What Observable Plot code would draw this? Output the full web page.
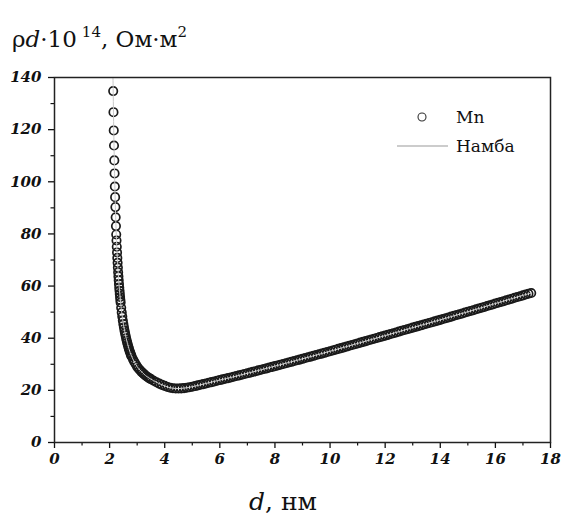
<!DOCTYPE html>
<html>
<head>
<meta charset="utf-8">
<script src="https://cdn.jsdelivr.net/npm/d3@7"></script>
<script src="https://cdn.jsdelivr.net/npm/@observablehq/plot@0.6"></script>
<style>
  html, body { margin: 0; padding: 0; background: #fff; }
  #chart svg { display: block; }
</style>
</head>
<body>
<div id="chart"></div>
<script>
// ---- Data ----
const mnD = [
  2.13,2.14,2.15,2.16,2.17,2.18,2.19,2.20,2.21,2.22,2.23,2.24,2.25,2.26,2.27,2.28,2.29,2.30,
  2.31,2.32,2.33,2.34,2.35,2.36,2.37,2.38,2.39,2.40,
  2.42,2.44,2.46,2.48,2.50,2.52,2.54,2.56,2.58,2.60,2.62,2.64,2.66,2.68,2.70,2.72,2.74,2.76,2.78,2.80,
  2.85,2.90,2.95,3.00,3.05,3.10,3.15,3.20,3.25,3.30,3.35,3.40,3.45,3.50,
  3.6,3.7,3.8,3.9,4.0,4.1,4.2,4.3,4.4,4.5,4.6,4.7,4.8,4.9,5.0,5.1,5.2,5.3,5.4,5.5,5.6,5.7,5.8,5.9,
  6.0,6.1,6.2,6.3,6.4,6.5,6.6,6.7,6.8,6.9,7.0,7.1,7.2,7.3,7.4,7.5,7.6,7.7,7.8,7.9,
  8.0,8.1,8.2,8.3,8.4,8.5,8.6,8.7,8.8,8.9,9.0,9.1,9.2,9.3,9.4,9.5,9.6,9.7,9.8,9.9,
  10.0,10.1,10.2,10.3,10.4,10.5,10.6,10.7,10.8,10.9,11.0,11.1,11.2,11.3,11.4,11.5,11.6,11.7,11.8,11.9,
  12.0,12.1,12.2,12.3,12.4,12.5,12.6,12.7,12.8,12.9,13.0,13.1,13.2,13.3,13.4,13.5,13.6,13.7,13.8,13.9,
  14.0,14.1,14.2,14.3,14.4,14.5,14.6,14.7,14.8,14.9,15.0,15.1,15.2,15.3,15.4,15.5,15.6,15.7,15.8,15.9,
  16.0,16.1,16.2,16.3,16.4,16.5,16.6,16.7,16.8,16.9,17.0,17.1,17.2,17.3
];
const mnRho = [
  134.8,126.7,119.7,113.9,108.2,103.2,98.2,94.1,90.3,86.4,83.0,79.8,77.5,75.1,72.9,70.8,68.9,67.1,
  65.3,63.7,62.2,60.8,59.4,58.2,57.0,55.8,54.7,53.7,
  51.7,49.9,48.3,46.8,45.4,44.2,43.0,42.0,41.0,40.0,39.1,38.3,37.5,36.7,36.0,35.3,34.7,34.1,33.5,33.0,
  31.9,30.9,30.0,29.1,28.4,27.8,27.2,26.7,26.2,25.7,25.3,24.95,24.6,24.3,
  23.7,23.1,22.6,22.1,21.7,21.3,21.0,20.8,20.7,20.7,20.75,20.85,21.0,21.2,21.4,21.65,21.9,22.15,22.4,22.65,22.9,23.15,23.4,23.7,
  23.95,24.2,24.45,24.7,24.95,25.2,25.5,25.75,26.0,26.3,26.55,26.8,27.1,27.35,27.65,27.9,28.2,28.45,28.75,29.0,
  29.3,29.55,29.85,30.1,30.4,30.7,30.95,31.25,31.55,31.8,32.1,32.4,32.7,32.95,33.25,33.55,33.85,34.1,34.4,34.7,
  35.0,35.3,35.6,35.9,36.2,36.5,36.8,37.1,37.4,37.7,38.0,38.3,38.6,38.9,39.2,39.5,39.8,40.1,40.4,40.7,
  41.0,41.3,41.6,41.9,42.2,42.55,42.85,43.15,43.45,43.75,44.05,44.35,44.65,44.95,45.25,45.55,45.85,46.15,46.45,46.75,
  47.05,47.35,47.65,47.95,48.3,48.6,48.9,49.2,49.5,49.85,50.15,50.45,50.75,51.1,51.4,51.7,52.0,52.35,52.65,52.95,
  53.3,53.6,53.9,54.2,54.55,54.85,55.15,55.5,55.8,56.1,56.45,56.75,57.05,57.35
];
const nambaD = [
  2.12,2.13,2.14,2.15,2.16,2.18,2.20,2.22,2.25,2.28,2.30,2.33,2.36,2.40,2.45,2.50,2.55,2.60,
  2.70,2.80,2.90,3.0,3.1,3.2,3.3,3.4,3.5,3.6,3.8,4.0,4.2,4.4,4.6,4.8,5.0,5.25,5.5,5.75,
  6.0,6.5,7.0,7.5,8.0,8.5,9.0,10,11,12,13,14,15,16,17,17.3
];
const nambaRho = [
  141,134.8,126.7,119.7,113.9,103.2,94.1,86.4,77.5,70.8,67.1,62.2,58.2,53.7,49.1,45.4,42.5,40.0,
  36.0,33.0,30.9,29.1,27.8,26.7,25.7,24.95,24.3,23.7,22.6,21.7,21.0,20.7,20.75,21.0,21.4,22.0,22.65,23.3,
  23.95,25.2,26.55,27.9,29.3,30.7,32.1,35.0,38.0,41.0,44.05,47.05,50.15,53.3,56.45,57.35
];
const xTicks = [0,2,4,6,8,10,12,14,16,18];
const xMinor = [1,3,5,7,9,11,13,15,17];
const yTicks = [0,20,40,60,80,100,120,140];
const yMinor = [10,30,50,70,90,110,130];
const seriesNames = ["Mn", "Намба"];

const mn = mnD.map((d, i) => ({d, rho: mnRho[i]}));
const namba = nambaD.map((d, i) => ({d, rho: nambaRho[i]}));

const tickFont = {fontFamily: "DejaVu Serif", fontStyle: "italic", fontWeight: "bold", fontSize: 15};

const chart = Plot.plot({
  width: 562,
  height: 517,
  marginLeft: 54,
  marginRight: 12,
  marginTop: 77,
  marginBottom: 75,
  x: {domain: [0, 18]},
  y: {domain: [0, 140]},
  style: {background: "#fff", color: "#111", fontFamily: "DejaVu Serif"},
  marks: [
    Plot.axisX({ticks: xTicks, tickSize: 6, tickPadding: 5, strokeWidth: 1.3, label: null, ...tickFont, fill: "#111"}),
    Plot.axisX({ticks: xMinor, tickSize: 3.5, strokeWidth: 1.2, text: null, label: null}),
    Plot.axisY({ticks: yTicks, tickSize: 6, tickPadding: 7, strokeWidth: 1.3, label: null, ...tickFont, fill: "#111"}),
    Plot.axisY({ticks: yMinor, tickSize: 3.5, strokeWidth: 1.2, text: null, label: null}),
    Plot.dot(mn, {x: "d", y: "rho", r: 4.2, stroke: "#1a1a1a", strokeWidth: 1.7, fill: "none", clip: true}),
    Plot.line(namba, {x: "d", y: "rho", stroke: "#c8c8c8", strokeWidth: 1, curve: "catmull-rom", clip: true}),
    Plot.frame({stroke: "#222", strokeWidth: 1.5})
  ]
});

document.getElementById("chart").appendChild(chart);

const svg = d3.select(chart);
// Y title
const t = svg.append("text")
  .attr("x", 12).attr("y", 47)
  .attr("text-anchor", "start")
  .attr("font-family", "DejaVu Serif")
  .attr("font-size", 23)
  .attr("fill", "#111");
t.append("tspan").text("ρ");
t.append("tspan").attr("font-style", "italic").text("d");
t.append("tspan").text("·10");
t.append("tspan").attr("font-size", 15).attr("dy", -10).attr("dx", 5).text("14");
t.append("tspan").attr("dy", 10).text(", Ом·м");
t.append("tspan").attr("font-size", 15).attr("dy", -10).text("2");

// X title
const xt = svg.append("text")
  .attr("x", 283).attr("y", 510)
  .attr("text-anchor", "middle")
  .attr("font-family", "DejaVu Serif")
  .attr("font-size", 25)
  .attr("fill", "#111");
xt.append("tspan").attr("font-style", "italic").text("d");
xt.append("tspan").text(", нм");

// Legend
const lg = svg.append("g").attr("font-family", "DejaVu Serif").attr("font-size", 17).attr("fill", "#111").attr("text-anchor", "start");
lg.append("circle").attr("cx", 422).attr("cy", 117).attr("r", 4).attr("fill", "none").attr("stroke", "#333").attr("stroke-width", 1.1);
lg.append("text").attr("x", 456).attr("y", 123).text(seriesNames[0]);
lg.append("line").attr("x1", 397).attr("x2", 448).attr("y1", 146).attr("y2", 146).attr("stroke", "#999").attr("stroke-width", 1);
lg.append("text").attr("x", 456).attr("y", 152).text(seriesNames[1]);
</script>
</body>
</html>
